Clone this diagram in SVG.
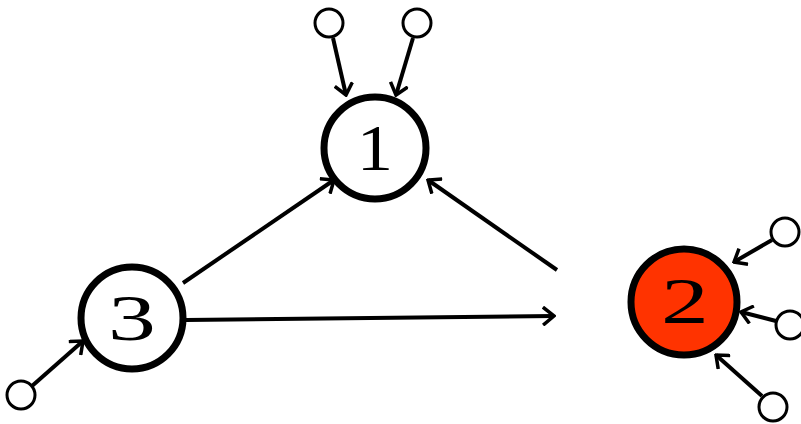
<svg xmlns="http://www.w3.org/2000/svg" width="801" height="424" viewBox="0 0 801 424">
<style>
.node{stroke:#000;stroke-width:7;fill:#fff}
.red{fill:#ff3300}
.small{stroke:#000;stroke-width:3;fill:#fff}
.edge{stroke:#000;stroke-width:4;fill:none;marker-end:url(#arr)}
.lbl{font-family:"Liberation Serif","Times New Roman",serif;font-size:66px;text-anchor:middle;fill:#000}
</style>
<defs>
<marker id="arr" viewBox="0 0 14 20" refX="12" refY="10" markerWidth="14" markerHeight="20" markerUnits="userSpaceOnUse" orient="auto">
<path d="M1,1 L12,10 L1,19" fill="none" stroke="#000" stroke-width="3.5"/>
</marker>
</defs>
<rect width="801" height="424" fill="#fff"/>
<g id="connectors">
<line class="edge" x1="333" y1="38" x2="346" y2="95"/>
<line class="edge" x1="413" y1="38" x2="396" y2="95"/>
<line class="edge" x1="32" y1="386" x2="83" y2="341"/>
<line class="edge" x1="772" y1="240" x2="734" y2="262"/>
<line class="edge" x1="776" y1="321" x2="741" y2="312"/>
<line class="edge" x1="762" y1="396" x2="716" y2="355"/>
<line class="edge" x1="183" y1="283" x2="334" y2="180"/>
<line class="edge" x1="557" y1="270" x2="428" y2="180"/>
<line class="edge" x1="186" y1="320" x2="554" y2="316"/>
</g>
<g id="n1">
<circle class="node" cx="375" cy="148" r="51"/>
<text class="lbl" transform="translate(375,170) scale(1.1,1)">1</text>
</g>
<g id="n2">
<circle class="node red" cx="684" cy="302" r="53"/>
<text class="lbl" transform="translate(685,323) scale(1.45,1)">2</text>
</g>
<g id="n3">
<circle class="node" cx="132" cy="318" r="51"/>
<text class="lbl" transform="translate(132,340) scale(1.45,1)">3</text>
</g>
<g id="s1"><circle class="small" cx="329" cy="23" r="14"/></g>
<g id="s2"><circle class="small" cx="417" cy="23" r="14"/></g>
<g id="s3"><circle class="small" cx="21" cy="395" r="14"/></g>
<g id="s4"><circle class="small" cx="785" cy="232" r="14"/></g>
<g id="s5"><circle class="small" cx="790" cy="325" r="14"/></g>
<g id="s6"><circle class="small" cx="773" cy="407" r="14"/></g>
</svg>
